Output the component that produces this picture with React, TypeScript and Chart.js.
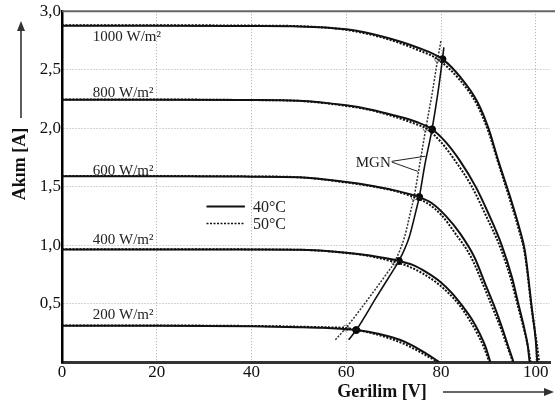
import React, { useEffect, useRef } from 'react';
import { Chart, registerables } from 'chart.js';

Chart.register(...registerables);

// ---- Data ----
// 40°C curves (solid)
const V1000_40 = [0, 20, 40, 50, 60, 68, 75, 80.3, 84, 87.6, 90, 92.1, 94.6, 96.5, 97.7, 99.2, 100, 100.3];
const I1000_40 = [2.875, 2.875, 2.873, 2.87, 2.845, 2.78, 2.69, 2.59, 2.44, 2.23, 2.0, 1.72, 1.41, 1.15, 0.95, 0.45, 0.18, 0];
const V800_40 = [0, 20, 40, 50, 60, 65, 70, 75, 78.1, 81, 84, 87.3, 90, 92.8, 95, 96.3, 97.5, 98.3, 98.7];
const I800_40 = [2.243, 2.243, 2.24, 2.235, 2.195, 2.16, 2.11, 2.05, 1.99, 1.88, 1.72, 1.5, 1.27, 1.0, 0.72, 0.5, 0.3, 0.14, 0];
const V600_40 = [0, 20, 40, 50, 60, 65, 70, 75.4, 78, 81, 84, 87, 89.5, 91.5, 93, 94.3, 95.3];
const I600_40 = [1.588, 1.588, 1.585, 1.58, 1.54, 1.51, 1.47, 1.41, 1.36, 1.25, 1.1, 0.9, 0.65, 0.45, 0.28, 0.12, 0];
const V400_40 = [0, 20, 40, 50, 60, 65, 71.1, 74, 76.8, 80, 82.4, 84.5, 86.6, 88.2, 89.4, 90.4];
const I400_40 = [0.963, 0.963, 0.962, 0.96, 0.935, 0.91, 0.864, 0.83, 0.77, 0.68, 0.585, 0.48, 0.36, 0.24, 0.13, 0];
const V200_40 = [0, 20, 40, 50, 55, 62.1, 67, 71.3, 74, 76.8, 78.5, 79.6];
const I200_40 = [0.31, 0.31, 0.305, 0.298, 0.292, 0.273, 0.24, 0.19, 0.14, 0.074, 0.03, 0];

// 50°C curves (dotted)
const V1000_50 = [0, 20, 40, 50, 60, 68, 75, 79.3, 84, 87.6, 90, 92.1, 94.6, 96.5, 97.7, 99.2, 100.2, 100.7];
const I1000_50 = [2.88, 2.88, 2.877, 2.872, 2.84, 2.77, 2.67, 2.59, 2.41, 2.2, 1.97, 1.7, 1.38, 1.12, 0.92, 0.43, 0.16, 0];
const V800_50 = [0, 20, 40, 50, 60, 65, 70, 75, 76.8, 80, 83, 86.5, 89.5, 92.5, 94.8, 96.2, 97.5, 98.4, 98.9];
const I800_50 = [2.245, 2.245, 2.24, 2.233, 2.19, 2.155, 2.1, 2.03, 2.0, 1.88, 1.72, 1.5, 1.25, 0.98, 0.7, 0.48, 0.28, 0.12, 0];
const V600_50 = [0, 20, 40, 50, 60, 65, 70, 74.3, 77, 80, 83, 86.3, 89, 91, 92.7, 94.1, 95.2];
const I600_50 = [1.59, 1.59, 1.587, 1.58, 1.535, 1.505, 1.465, 1.41, 1.36, 1.26, 1.1, 0.9, 0.65, 0.45, 0.28, 0.12, 0];
const V400_50 = [0, 20, 40, 50, 60, 65, 70.2, 73, 76, 79, 81.7, 84, 86, 87.7, 89, 90.2];
const I400_50 = [0.965, 0.965, 0.963, 0.96, 0.933, 0.905, 0.855, 0.82, 0.76, 0.68, 0.585, 0.48, 0.36, 0.24, 0.13, 0];
const V200_50 = [0, 20, 40, 50, 55, 59.9, 65, 70, 73, 76, 78, 79.4];
const I200_50 = [0.312, 0.312, 0.308, 0.302, 0.297, 0.29, 0.25, 0.19, 0.14, 0.075, 0.03, 0];

// Maximum power points (MGN)
const MPP_V_40 = [62.1, 71.1, 75.4, 78.1, 80.3];
const MPP_I_40 = [0.273, 0.864, 1.41, 1.99, 2.59];
const MPP_V_50 = [59.9, 70.2, 74.3, 76.8, 79.3];
const MPP_I_50 = [0.29, 0.855, 1.41, 2.0, 2.59];

// MGN trace lines
const MGN_V_40 = [60.5, 62.1, 66.4, 69.9, 71.1, 73.3, 74.7, 75.4, 76.6, 78.1, 79.3, 80.3, 80.6];
const MGN_I_40 = [0.19, 0.273, 0.557, 0.784, 0.864, 1.07, 1.29, 1.41, 1.69, 1.99, 2.29, 2.59, 2.69];
const MGN_V_50 = [57.7, 59.9, 65.0, 68.6, 70.2, 72.3, 73.6, 74.3, 75.5, 76.8, 78.1, 79.3, 80.0];
const MGN_I_50 = [0.19, 0.29, 0.56, 0.76, 0.855, 1.07, 1.29, 1.41, 1.69, 2.0, 2.29, 2.59, 2.75];

const IRRADIANCE_LABELS = ['1000 W/m²', '800 W/m²', '600 W/m²', '400 W/m²', '200 W/m²'];
const IRRADIANCE_LABEL_I = [2.78, 2.3, 1.637, 1.04, 0.4];
const LEGEND_LABELS = ['40°C', '50°C'];

const X_TICKS = [0, 20, 40, 60, 80, 100];
const Y_TICK_LABELS: Record<string, string> = {
  '0.5': '0,5', '1': '1,0', '1.5': '1,5', '2': '2,0', '2.5': '2,5', '3': '3,0',
};

const X_TITLE = 'Gerilim [V]';
const Y_TITLE = 'Akım [A]';
const MGN_LABEL = 'MGN';

const SERIF = '"Liberation Serif", "Times New Roman", serif';

function pts(v: number[], i: number[]) {
  return v.map((x, k) => ({ x, y: i[k] }));
}

const decorPlugin = {
  id: 'decor',
  beforeDatasetsDraw(chart: any) {
    const { ctx, chartArea, scales } = chart;
    const y = scales.y;
    ctx.save();
    ctx.strokeStyle = '#666';
    ctx.lineWidth = 2;
    ctx.beginPath();
    const ty = y.getPixelForValue(3);
    ctx.moveTo(chartArea.left, ty);
    ctx.lineTo(chart.width, ty);
    ctx.stroke();
    ctx.restore();
  },
  afterDraw(chart: any) {
    const { ctx, scales } = chart;
    const x = scales.x;
    const y = scales.y;
    const px = (v: number) => x.getPixelForValue(v);
    const py = (v: number) => y.getPixelForValue(v);
    ctx.save();

    // irradiance labels
    ctx.fillStyle = '#222';
    ctx.font = `15px ${SERIF}`;
    ctx.textAlign = 'left';
    ctx.textBaseline = 'middle';
    IRRADIANCE_LABELS.forEach((t, k) => {
      ctx.fillText(t, px(6.5), py(IRRADIANCE_LABEL_I[k]));
    });

    // legend
    ctx.strokeStyle = '#111';
    ctx.lineWidth = 2;
    ctx.setLineDash([]);
    ctx.beginPath();
    ctx.moveTo(px(30.5), py(1.33));
    ctx.lineTo(px(38.6), py(1.33));
    ctx.stroke();
    ctx.setLineDash([2, 1.5]);
    ctx.lineWidth = 1.5;
    ctx.beginPath();
    ctx.moveTo(px(30.5), py(1.185));
    ctx.lineTo(px(38.6), py(1.185));
    ctx.stroke();
    ctx.setLineDash([]);
    ctx.font = `16px ${SERIF}`;
    ctx.fillText(LEGEND_LABELS[0], px(40.3), py(1.32));
    ctx.fillText(LEGEND_LABELS[1], px(40.3), py(1.175));

    // MGN label with leaders
    ctx.font = `15px ${SERIF}`;
    ctx.fillText(MGN_LABEL, px(62.0), py(1.705));
    ctx.strokeStyle = '#222';
    ctx.lineWidth = 1;
    ctx.beginPath();
    ctx.moveTo(px(69.6), py(1.716));
    ctx.lineTo(px(76.7), py(1.76));
    ctx.moveTo(px(69.6), py(1.71));
    ctx.lineTo(px(75.1), py(1.63));
    ctx.stroke();

    // axis titles & arrows
    ctx.fillStyle = '#111';
    ctx.font = `bold 18px ${SERIF}`;
    ctx.textAlign = 'center';
    ctx.fillText(X_TITLE, 382, 392);
    ctx.save();
    ctx.translate(20, 164);
    ctx.rotate(-Math.PI / 2);
    ctx.fillText(Y_TITLE, 0, 0);
    ctx.restore();

    ctx.strokeStyle = '#333';
    ctx.fillStyle = '#333';
    ctx.lineWidth = 1.6;
    ctx.beginPath();
    ctx.moveTo(443, 392);
    ctx.lineTo(546, 392);
    ctx.stroke();
    ctx.beginPath();
    ctx.moveTo(554, 392);
    ctx.lineTo(544, 388);
    ctx.lineTo(544, 396);
    ctx.closePath();
    ctx.fill();

    ctx.beginPath();
    ctx.moveTo(21, 118);
    ctx.lineTo(21, 30);
    ctx.stroke();
    ctx.beginPath();
    ctx.moveTo(21, 21);
    ctx.lineTo(17, 31);
    ctx.lineTo(25, 31);
    ctx.closePath();
    ctx.fill();

    ctx.restore();
  },
};

function curve(v: number[], i: number[], dotted: boolean) {
  return {
    data: pts(v, i),
    borderColor: '#111',
    borderWidth: 2,
    borderDash: dotted ? [2, 1.5] : [],
    pointRadius: 0,
    cubicInterpolationMode: 'monotone' as const,
    fill: false,
  };
}

export default function App() {
  const ref = useRef<HTMLCanvasElement | null>(null);
  useEffect(() => {
    if (!ref.current) return;
    const chart = new Chart(ref.current, {
      type: 'line',
      data: {
        datasets: [
          curve(V1000_50, I1000_50, true),
          curve(V800_50, I800_50, true),
          curve(V600_50, I600_50, true),
          curve(V400_50, I400_50, true),
          curve(V200_50, I200_50, true),
          curve(V1000_40, I1000_40, false),
          curve(V800_40, I800_40, false),
          curve(V600_40, I600_40, false),
          curve(V400_40, I400_40, false),
          curve(V200_40, I200_40, false),
          {
            data: pts(MGN_V_50, MGN_I_50),
            borderColor: '#333',
            borderWidth: 1.5,
            borderDash: [2, 1.5],
            pointRadius: 0,
            cubicInterpolationMode: 'monotone',
            fill: false,
          },
          {
            data: pts(MGN_V_40, MGN_I_40),
            borderColor: '#111',
            borderWidth: 1.6,
            pointRadius: 0,
            cubicInterpolationMode: 'monotone',
            fill: false,
          },
          {
            data: pts(MPP_V_50, MPP_I_50),
            showLine: false,
            pointRadius: 3,
            pointBackgroundColor: '#fff',
            pointBorderColor: '#777',
            pointBorderWidth: 1,
          },
          {
            data: pts(MPP_V_40, MPP_I_40),
            showLine: false,
            pointRadius: 3.5,
            pointBackgroundColor: '#000',
            pointBorderColor: '#000',
            pointBorderWidth: 1,
          },
        ] as any,
      },
      options: {
        animation: false,
        responsive: false,
        maintainAspectRatio: false,
        layout: { padding: { top: 10, right: 0, left: 0, bottom: 0 } },
        plugins: { legend: { display: false }, tooltip: { enabled: false } },
        scales: {
          x: {
            type: 'linear',
            min: 0,
            max: 103,
            afterBuildTicks: (scale: any) => {
              scale.ticks = X_TICKS.map((v) => ({ value: v }));
            },
            afterFit: (scale: any) => {
              scale.height = 43;
            },
            ticks: {
              padding: 0,
              color: '#111',
              font: { family: SERIF, size: 17 },
              callback: (v: any) => String(v),
              maxRotation: 0,
            },
            grid: { color: '#aaaaaa', lineWidth: 1, drawTicks: false },
            border: { display: true, color: '#333', width: 3, dash: [1, 2] },
          },
          y: {
            type: 'linear',
            min: 0,
            max: 3,
            ticks: {
              stepSize: 0.5,
              padding: 1,
              color: '#111',
              font: { family: SERIF, size: 17 },
              callback: (v: any) => Y_TICK_LABELS[String(v)] ?? '',
            },
            afterFit: (scale: any) => {
              scale.width = 62;
            },
            grid: { color: '#aaaaaa', lineWidth: 1, drawTicks: false },
            border: { display: true, color: '#000', width: 2.5, dash: [1, 2] },
          },
        },
      } as any,
      plugins: [decorPlugin],
    });
    return () => chart.destroy();
  }, []);
  return (
    <div style={{ position: 'absolute', left: 0, top: 0, width: 555, height: 405, background: '#fff' }}>
      <canvas ref={ref} width={555} height={405} style={{ display: 'block' }} />
    </div>
  );
}
